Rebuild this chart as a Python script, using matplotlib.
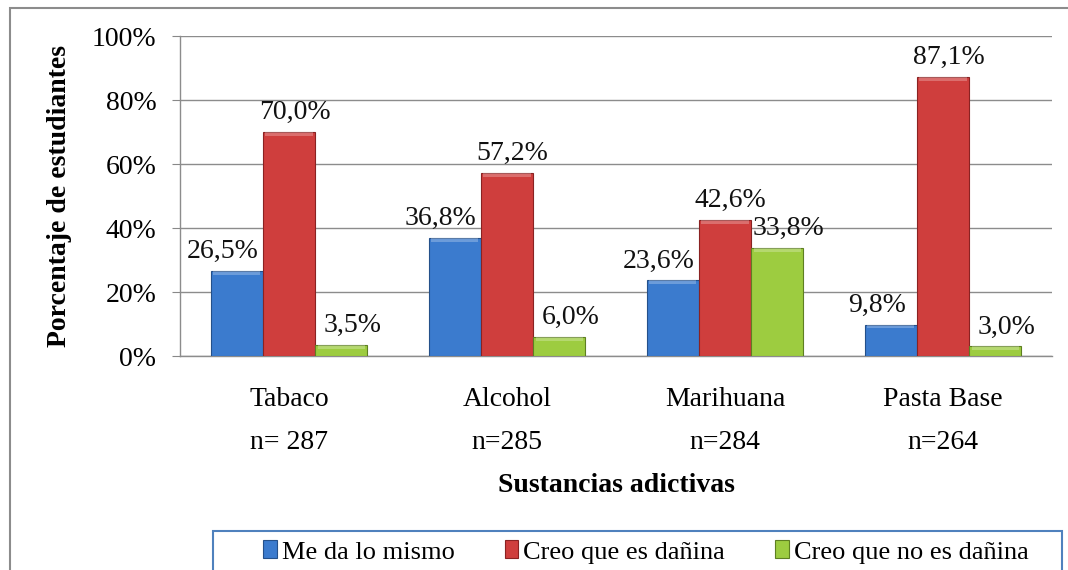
import matplotlib.pyplot as plt
import numpy as np
from matplotlib.patches import Rectangle

plt.rcParams['font.family'] = ['Liberation Serif', 'DejaVu Serif']

# data
sustancias = ['Tabaco', 'Alcohol', 'Marihuana', 'Pasta Base']
n_labels = ['n= 287', 'n=285', 'n=284', 'n=264']
series = ['Me da lo mismo', 'Creo que es dañina', 'Creo que no es dañina']
me_da_lo_mismo = [26.5, 36.8, 23.6, 9.8]
creo_danina = [70.0, 57.2, 42.6, 87.1]
creo_no_danina = [3.5, 6.0, 33.8, 3.0]

colors = ['#3B7BCE', '#CF3E3D', '#9DCC40']
edges = ['#24508A', '#8A2222', '#5E7F22']
label_dx = [-10, 4, 8]  # label nudges in points

fig = plt.figure(figsize=(10.68, 5.70), dpi=100)
ax = fig.add_axes([180/1068, 1 - 356/570, 872/1068, 320/570])

x = np.arange(len(sustancias))
w = 0.24
values = [me_da_lo_mismo, creo_danina, creo_no_danina]
for i, (vals, name) in enumerate(zip(values, series)):
    pos = x + (i - 1) * w
    ax.bar(pos, vals, w, color=colors[i], edgecolor=edges[i], linewidth=0.8,
           label=name, zorder=3)
    # lighter bevel at the top of each bar
    ax.bar(pos, [min(1.2, v) for v in vals], w * 0.9,
           bottom=[v - min(1.2, v) for v in vals], color='white', alpha=0.25,
           linewidth=0, zorder=4)
    for p, v in zip(pos, vals):
        ax.annotate(f'{v:.1f}%'.replace('.', ','), (p, v),
                    xytext=(label_dx[i], 5), textcoords='offset points',
                    ha='center', va='bottom', fontsize=20, color='#111111')

ax.set_xlim(-0.5, 3.5)
ax.set_ylim(0, 100)
ax.set_yticks(range(0, 101, 20))
ax.set_yticklabels([f'{t}%' for t in range(0, 101, 20)], fontsize=20)
ax.set_xticks(x)
ax.set_xticklabels([f'{s}\n{n}' for s, n in zip(sustancias, n_labels)],
                   fontsize=20, linespacing=1.96)
ax.tick_params(axis='x', length=0, pad=22)
ax.tick_params(axis='y', length=6, color='#888888', pad=11)
ax.grid(axis='y', color='#8C8C8C', linewidth=1.0, zorder=0)
for s in ['top', 'right']:
    ax.spines[s].set_visible(False)
for s in ['left', 'bottom']:
    ax.spines[s].set_color('#8C8C8C')
    ax.spines[s].set_linewidth(1.0)

ax.set_ylabel('Porcentaje de estudiantes', fontsize=20, fontweight='bold',
              labelpad=14)
ax.set_xlabel('Sustancias adictivas', fontsize=20, fontweight='bold',
              labelpad=13)

handles, labels = ax.get_legend_handles_labels()
leg = fig.legend([h[0] for h in handles], labels, loc='center',
                 bbox_to_anchor=(646/1068, 1 - 552/570),
                 ncol=3, fontsize=19, frameon=False,
                 handlelength=0.5, handleheight=0.65, handletextpad=0.2,
                 columnspacing=1.9, borderpad=0.2)

# legend box, cut by the bottom edge
fig.add_artist(Rectangle((213/1068, -0.1), (1062-213)/1068, 0.1 + 39/570,
                         transform=fig.transFigure, fill=False,
                         edgecolor='#4F81BD', linewidth=1.5))
# outer chart border
fig.add_artist(Rectangle((10/1068, -0.1), 1.2, 1.1 - 8/570, transform=fig.transFigure,
                         fill=False, edgecolor='#8C8C8C', linewidth=1.5))

fig.savefig('out.png', dpi=100)
